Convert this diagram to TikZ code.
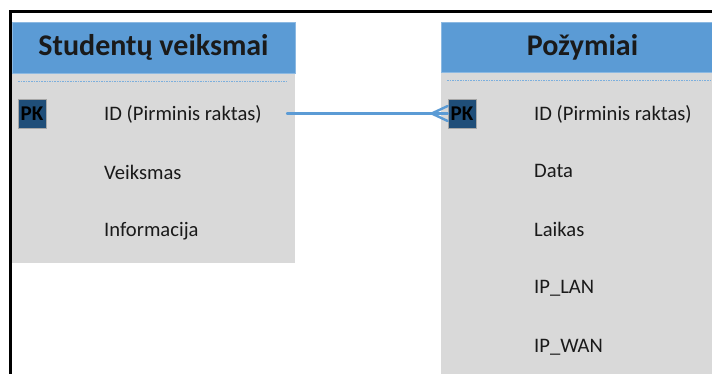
\documentclass[tikz,border=0pt]{standalone}
\usepackage{fontspec}
\setmainfont{Carlito}
\usetikzlibrary{calc}
\definecolor{hdrblue}{HTML}{5B9BD5}
\definecolor{bodygrey}{HTML}{D9D9D9}
\definecolor{pkblue}{HTML}{1F4E79}
\definecolor{inkdark}{HTML}{1A1A1A}
\tikzset{
  hdr/.style={fill=hdrblue, draw=hdrblue!70!white, line width=0.6pt},
  tbody/.style={fill=bodygrey, draw=none},
  title/.style={font=\bfseries\fontsize{30}{32}\selectfont, text=inkdark, inner sep=0pt},
  field/.style={font=\fontsize{20.6}{22}\selectfont, text=inkdark, anchor=west, inner sep=0pt},
  pkbox/.style={fill=pkblue, draw=gray!70, line width=0.6pt, minimum width=28pt, minimum height=29pt,
    inner sep=0pt, font=\bfseries\fontsize{21}{22}\selectfont, text=black},
  sep/.style={draw=hdrblue!80, line width=0.9pt, dash pattern=on 1.6pt off 1pt},
  rel/.style={draw=hdrblue, line width=2.4pt, line cap=round},
  frameline/.style={draw=black, line width=3pt}
}
\begin{document}
\begin{tikzpicture}[x=1pt, y=-1pt]
\useasboundingbox (0,0) rectangle (712,374);
\clip (0,0) rectangle (712,374);
\fill[white] (0,0) rectangle (712,374);

% outer frame (left and top edges)
\draw[frameline] (10.5,376) -- (10.5,11.5) -- (714,11.5);

% table: Studentų veiksmai
\path[tbody] (12,73) rectangle (295,263);
\path[hdr] (12,22) rectangle (295,73);
\node[title] (t1) at (153.5,47) {Studentų veiksmai};
\draw[sep] (18,81) -- (288,81);
\node[pkbox] (pkL) at (32,114) {PK};
\node[field] (l1) at (104,114) {ID (Pirminis raktas)};
\node[field] (l2) at (104,172) {Veiksmas};
\node[field] (l3) at (104,231) {Informacija};

% table: Požymiai
\path[tbody] (441,72) rectangle (724,380);
\path[hdr] (441,22) rectangle (724,72);
\node[title] (t2) at (582.5,47) {Požymiai};
\draw[sep] (447,80) -- (712,80);
\node[pkbox] (pkR) at (462,114) {PK};
\node[field] (r1) at (534,114) {ID (Pirminis raktas)};
\node[field] (r2) at (534,171) {Data};
\node[field] (r3) at (534,229) {Laikas};
\node[field] (r4) at (534,288) {IP\_LAN};
\node[field] (r5) at (534,347) {IP\_WAN};

% relationship with crow's foot at the Požymiai end
\coordinate (relStart) at (287,113.5);
\coordinate (crow) at ($(pkR.west)+(-16,-0.5)$);
\draw[rel] (relStart) -- ($(pkR.west)+(0,-0.5)$);
\draw[rel] (crow) -- ($(pkR.west)+(0,-8)$);
\draw[rel] (crow) -- ($(pkR.west)+(0,7)$);
\end{tikzpicture}
\end{document}
